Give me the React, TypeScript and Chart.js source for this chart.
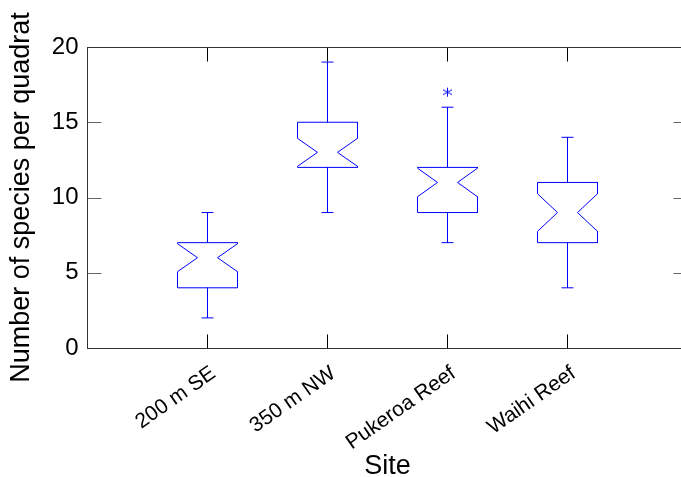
import React, { useEffect, useRef } from 'react';
import { Chart, registerables } from 'chart.js';

Chart.register(...registerables);

// ---- data ----
const sites = ['200 m SE', '350 m NW', 'Pukeroa Reef', 'Waihi Reef'];
const whiskerLow = [2, 9, 7, 4];
const q1 = [4, 12, 9, 7];
const median = [6, 13, 11, 9];
const q3 = [7, 15, 12, 11];
const whiskerHigh = [9, 19, 16, 14];
const notchLow = [5.07, 12.07, 10.05, 7.75];
const notchHigh = [6.93, 13.93, 11.95, 10.25];
const outlierSite = [3];
const outlierValue = [17];
const yTicks = [0, 5, 10, 15, 20];

// ---- geometry (data units) ----
const BW = 0.25;
const NW = 0.0833;
const CW = 0.05;
const TICK = 14;
const BLUE = '#0000ff';
const FONT = '"Liberation Sans", Arial, sans-serif';

function makeAsterisk(): HTMLCanvasElement {
  const c = document.createElement('canvas');
  c.width = 11;
  c.height = 11;
  const g = c.getContext('2d')!;
  g.strokeStyle = BLUE;
  g.lineWidth = 1;
  g.beginPath();
  g.moveTo(5.5, 1);
  g.lineTo(5.5, 10);
  g.moveTo(1, 3);
  g.lineTo(10, 8);
  g.moveTo(1, 8);
  g.lineTo(10, 3);
  g.stroke();
  return c;
}

const framePlugin = {
  id: 'frame',
  afterDatasetsDraw(chart: any) {
    const { ctx, chartArea: a, scales } = chart;
    const L = Math.floor(a.left) + 0.5;
    const R = Math.floor(a.right) + 0.5;
    const T = Math.round(a.top) + 0.5;
    const B = Math.round(a.bottom) + 0.5;
    const line = (x1: number, y1: number, x2: number, y2: number) => {
      ctx.beginPath();
      ctx.moveTo(x1, y1);
      ctx.lineTo(x2, y2);
      ctx.stroke();
    };
    ctx.save();
    ctx.lineWidth = 1;
    ctx.strokeStyle = '#666666';
    yTicks.forEach((v) => {
      const py = Math.round(scales.y.getPixelForValue(v)) + 0.5;
      line(L, py, L + TICK, py);
      line(R, py, R - TICK, py);
    });
    ctx.strokeStyle = '#000000';
    sites.forEach((_, i) => {
      const px = Math.floor(scales.x.getPixelForValue(i + 1)) + 0.5;
      line(px, B, px, B - TICK);
      line(px, T, px, T + TICK);
    });
    ctx.strokeStyle = '#333333';
    ctx.strokeRect(L, T, R - L, B - T);
    ctx.restore();
  },
};

function seg(points: { x: number; y: number }[]) {
  return {
    data: points,
    showLine: true,
    borderColor: BLUE,
    borderWidth: 1,
    pointRadius: 0,
    tension: 0,
    borderJoinStyle: 'miter',
  };
}

export default function App() {
  const ref = useRef<HTMLCanvasElement | null>(null);

  useEffect(() => {
    if (!ref.current) return;
    const datasets: any[] = [];
    sites.forEach((_, i) => {
      const x = i + 1;
      const lo = Math.max(notchLow[i], q1[i]);
      const hi = Math.min(notchHigh[i], q3[i]);
      datasets.push(
        seg([
          { x: x - BW, y: q1[i] },
          { x: x - BW, y: lo },
          { x: x - NW, y: median[i] },
          { x: x - BW, y: hi },
          { x: x - BW, y: q3[i] },
          { x: x + BW, y: q3[i] },
          { x: x + BW, y: hi },
          { x: x + NW, y: median[i] },
          { x: x + BW, y: lo },
          { x: x + BW, y: q1[i] },
          { x: x - BW, y: q1[i] },
        ])
      );
      datasets.push(seg([{ x, y: q3[i] }, { x, y: whiskerHigh[i] }]));
      datasets.push(seg([{ x: x - CW, y: whiskerHigh[i] }, { x: x + CW, y: whiskerHigh[i] }]));
      datasets.push(seg([{ x, y: q1[i] }, { x, y: whiskerLow[i] }]));
      datasets.push(seg([{ x: x - CW, y: whiskerLow[i] }, { x: x + CW, y: whiskerLow[i] }]));
    });
    datasets.push({
      data: outlierSite.map((s, k) => ({ x: s, y: outlierValue[k] })),
      showLine: false,
      pointStyle: makeAsterisk(),
      pointRadius: 5,
    });

    const chart = new Chart(ref.current, {
      type: 'scatter',
      data: { datasets },
      plugins: [framePlugin],
      options: {
        animation: false,
        responsive: false,
        events: [],
        layout: { padding: { top: 47, right: 12.5, left: 0, bottom: 0 } },
        plugins: { legend: { display: false }, tooltip: { enabled: false } },
        scales: {
          x: {
            type: 'linear',
            min: 0,
            max: 5,
            afterBuildTicks: (scale: any) => {
              scale.ticks = sites.map((_, i) => ({ value: i + 1 }));
            },
            afterFit: (scale: any) => {
              scale.height = 129;
            },
            grid: { display: false, drawTicks: false },
            border: { display: false },
            ticks: {
              autoSkip: false,
              maxRotation: 35,
              minRotation: 35,
              padding: 13,
              labelOffset: 6,
              color: '#000',
              font: { family: FONT, size: 21 },
              callback: (v: any) => sites[Math.round(v) - 1] ?? '',
            },
            title: {
              display: true,
              text: 'Site',
              color: '#000',
              font: { family: FONT, size: 27, lineHeight: 1 },
              padding: { top: 0, bottom: -3 },
            },
          },
          y: {
            type: 'linear',
            min: 0,
            max: 20,
            afterBuildTicks: (scale: any) => {
              scale.ticks = yTicks.map((v) => ({ value: v }));
            },
            afterFit: (scale: any) => {
              scale.width = 87.5;
            },
            grid: { display: false, drawTicks: false },
            border: { display: false },
            ticks: {
              padding: 9,
              color: '#000',
              font: { family: FONT, size: 24 },
            },
            title: {
              display: true,
              text: 'Number of species per quadrat',
              color: '#000',
              font: { family: FONT, size: 27, lineHeight: 1 },
              padding: { top: 8, bottom: 0 },
            },
          },
        },
      },
    });
    return () => chart.destroy();
  }, []);

  return (
    <div
      style={{
        position: 'fixed',
        left: 0,
        top: 0,
        width: 681,
        height: 477,
        overflow: 'hidden',
        background: '#ffffff',
      }}
    >
      <canvas ref={ref} width={700} height={477} style={{ display: 'block' }} />
    </div>
  );
}
